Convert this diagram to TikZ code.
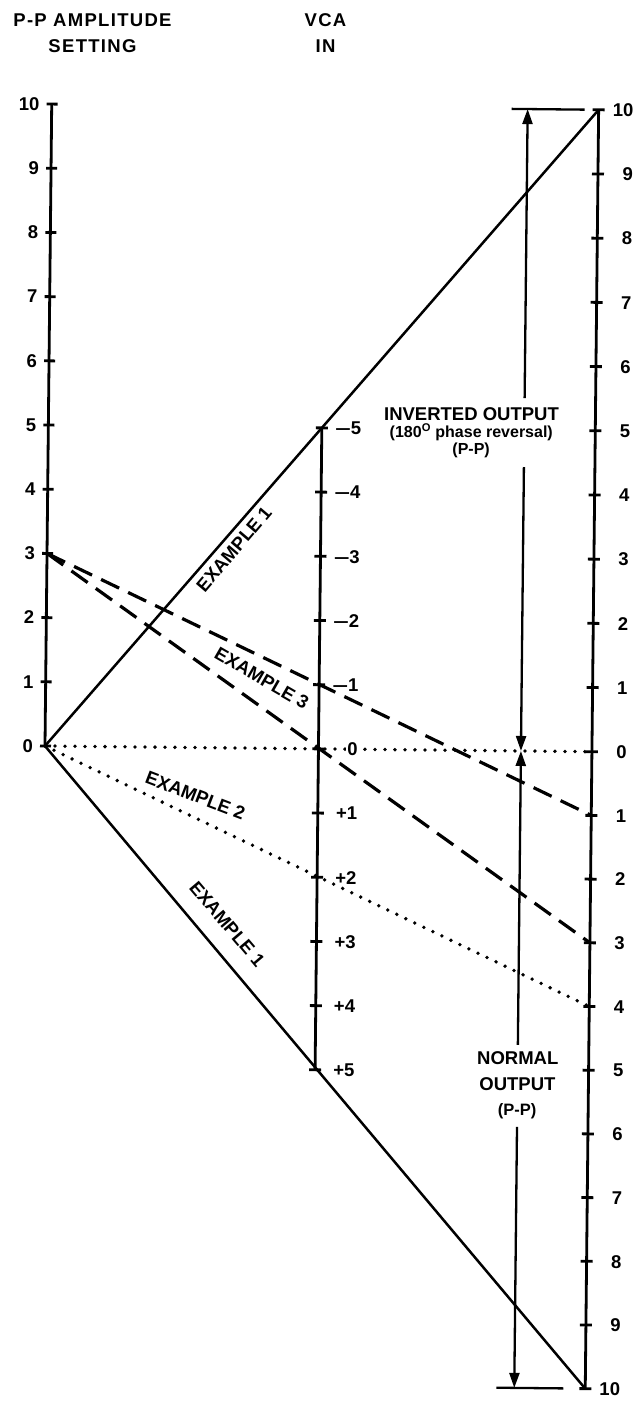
\documentclass[tikz,border=0pt]{standalone}
\usepackage{fontspec}
\setmainfont{Liberation Sans}
\usetikzlibrary{arrows.meta}
\begin{document}
\begin{tikzpicture}[x=1pt,y=-1pt,
  lab/.style={font=\fontsize{18.5}{20}\selectfont\bfseries, inner sep=0pt},
  midlab/.style={font=\fontsize{16.5}{18}\selectfont\bfseries, inner sep=0pt},
  smalllab/.style={font=\fontsize{16}{17}\selectfont\bfseries, inner sep=0pt},
  titlelab/.style={font=\fontsize{18.5}{26}\selectfont\bfseries\addfontfeatures{LetterSpace=7}, inner sep=0pt, align=center},
  axisline/.style={line width=2.8pt},
  tickmark/.style={line width=2.8pt},
  solidline/.style={line width=2.5pt},
  dashline/.style={line width=3.2pt, dash pattern=on 20pt off 10pt},
  dotline/.style={line width=3.8pt, line cap=round, dash pattern=on 0pt off 10pt},
  shaft/.style={line width=2.3pt},
  tip/.style={-{Triangle[length=15pt,width=10pt]}},
]
\useasboundingbox (0,0) rectangle (642,1401);
\begin{scope}[rotate around={-0.6:(45,746)}]
% coordinates of the scales
\foreach \k in {0,...,10}{
  \coordinate (L\k) at (45,{746-64.2*\k});
  \coordinate (RU\k) at (592,{746-64.2*\k});
  \coordinate (RD\k) at (592,{746+63.7*\k});
}
\foreach \k in {-5,...,5}{
  \coordinate (M\k) at (318.5,{746+64.2*\k});
}
% titles
\node[titlelab] (t1) at (85,32.5) {P-P AMPLITUDE\\SETTING};
\node[titlelab] (t2) at (318,30) {VCA\\IN};
% axes
\draw[axisline] (L0) -- (L10);
\draw[axisline] (M-5) -- (M5);
\draw[axisline] (RU10) -- (RD10);
% ticks and labels
\foreach \k in {0,...,10}{
  \draw[tickmark] (40,{746-64.2*\k}) -- (51,{746-64.2*\k});
  \node[lab, anchor=east] (ll\k) at (33,{746-64.2*\k}) {\k};
  \draw[tickmark] (586,{746-64.2*\k}) -- (598,{746-64.2*\k});
  \node[lab, anchor=east] (ru\k) at (627,{746-64.2*\k}) {\k};
}
\foreach \k in {1,...,10}{
  \draw[tickmark] (586,{746+63.7*\k}) -- (598,{746+63.7*\k});
  \node[lab, anchor=east] (rd\k) at (627,{746+63.7*\k}) {\k};
}
\foreach \k in {-5,...,5}{
  \draw[tickmark] (312.5,{746+64.2*\k}) -- (324.5,{746+64.2*\k});
}
\foreach \k in {1,...,5}{
  \node[lab, anchor=east] (mn\k) at (358,{746-64.2*\k}) {\scalebox{1.5}[1]{–}\k};
  \node[lab, anchor=east] (mp\k) at (358,{746+64.2*\k}) {+\k};
}
% example lines
\draw[solidline] (L0) -- (RU10);
\draw[solidline] (L0) -- (RD10);
\draw[dotline] (L0) -- (RU0);
\draw[dotline] (L0) -- (RD4);
\draw[dashline] (L3) -- (RD1);
\draw[dashline] (L3) -- (RD3);
\node[lab, anchor=east, fill=white, inner sep=1pt] (m0) at (359,746) {0};
% example labels
\node[lab, rotate=49.6] (ex1a) at (232,547) {EXAMPLE 1};
\node[lab, rotate=-49.6] (ex1b) at (229,922) {EXAMPLE 1};
\node[lab, rotate=-21] (ex2) at (196,794) {EXAMPLE 2};
\node[lab, rotate=-30] (ex3) at (261,676) {EXAMPLE 3};
% output range arrows
\coordinate (TB1) at (505,104);
\coordinate (TB2) at (578,104);
\coordinate (BB1) at (503,1383);
\coordinate (BB2) at (570,1383);
\coordinate (AT) at (521,104);
\coordinate (A0) at (521,746);
\coordinate (AB) at (521,1383);
\coordinate (GU1) at (521,393);
\coordinate (GU2) at (521,462);
\coordinate (GD1) at (521,1040);
\coordinate (GD2) at (521,1122);
\draw[shaft] (TB1) -- (TB2);
\draw[shaft] (BB1) -- (BB2);
\draw[shaft, tip] (GU1) -- (AT);
\draw[shaft, tip] (GU2) -- (A0);
\draw[shaft, tip] (GD1) -- (A0);
\draw[shaft, tip] (GD2) -- (AB);
\node[lab] (inv1) at (468,410) {INVERTED OUTPUT};
\node[smalllab] (inv2) at (468,428) {(180\textsuperscript{O} phase reversal)};
\node[smalllab] (inv3) at (468,446) {(P-P)};
\node[lab] (nor1) at (521,1053) {NORMAL};
\node[lab] (nor2) at (521,1079) {OUTPUT};
\node[midlab] (nor3) at (521,1106) {(P-P)};
\end{scope}
\end{tikzpicture}
\end{document}
